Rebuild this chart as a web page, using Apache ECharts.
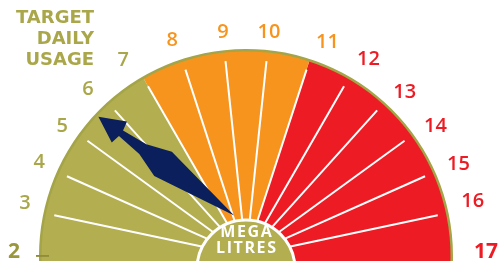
<!DOCTYPE html>
<html>
<head>
<meta charset="utf-8">
<script src="https://cdn.jsdelivr.net/npm/echarts@6/dist/echarts.min.js"></script>
<style>
html, body { margin: 0; padding: 0; background: #fff; }
#main { width: 498px; height: 261px; }
</style>
</head>
<body>
<div id="main"></div>
<script>
// dial scale, mega litres
const scaleMin = 2
const scaleMax = 17
// colour bands end at these values
const bandEnds = [7, 11, 17]
const bandColors = ['#b3ae4f', '#f7941e', '#ed1c24']
const tickLabels = [2, 3, 4, 5, 6, 7, 8, 9, 10, 11, 12, 13, 14, 15, 16, 17]
// where the needle points
const targetValue = [5.7]
const titleText = 'TARGET\nDAILY\nUSAGE'
const unitText = 'MEGA\nLITRES'

const olive = '#b3ae4f'
const oliveText = '#aaa74a'
const orange = '#f7941e'
const red = '#ed1c24'
const navy = '#0b1f5c'

const cx = 246, cy = 256, R = 206
const span = scaleMax - scaleMin
const degPerUnit = 180 / span
// the print runs the dial a little below the centre line, to the bottom edge
const overrun = 0.5

const myChart = echarts.init(document.getElementById('main'))

const fillMin = scaleMin - overrun
const fillSpan = span + overrun * 2
const bandStops = bandEnds.map((end, i) => [end === scaleMax ? 1 : (end - fillMin) / fillSpan, bandColors[i]])

// nudges [top, right, bottom, left] so the numbers sit like the print
const labelPad = {
    2: [0, 6, 8, 0], 3: [0, 0, 14, 0], 4: [0, 0, 7, 0], 5: [0, 0, 0, 0],
    6: [0, 5, 6, 0], 7: [0, 7, 10, 0], 8: [0, 0, 11, 0], 9: [0, 0, 8, 0],
    10: [0, 0, 8, 0], 11: [0, 0, 7, 2], 12: [0, 0, 11, 1], 13: [0, 0, 0, 0],
    14: [0, 0, 0, 0], 15: [0, 0, 4, 0], 16: [0, 0, 18, 0], 17: [0, 0, 8, 8]
}

function labelColor(v) {
    if (v <= bandEnds[0]) return v === scaleMin ? '#9a973c' : oliveText
    if (v <= bandEnds[1]) return orange
    return red
}

const labelRich = {}
tickLabels.forEach(function (v) {
    const isEnd = v === scaleMin || v === scaleMax
    labelRich['t' + v] = {
        color: labelColor(v),
        fontFamily: 'Open Sans',
        fontSize: isEnd ? 21 : 20,
        fontWeight: isEnd ? 'bold' : 600,
        lineHeight: 1,
        padding: labelPad[v]
    }
})

const hidden = {
    axisLine: { show: false },
    axisTick: { show: false },
    splitLine: { show: false },
    axisLabel: { show: false },
    pointer: { show: false },
    anchor: { show: false },
    title: { show: false },
    detail: { show: false }
}

// needle drawn pointing up, tilted a little like the original
const needle = 'path://M0,0 L16.6,23.8 L7.5,27.2 L13.9,53.6 L26.5,77 L24.4,166.2 L-3.2,81.3 L2,55.3 L0.6,28.2 L-9.1,27.6 Z'

const spaced = s => s.split('\n').map(line => line.split('').join('\u200a')).join('\n')

const option = {
    animation: false,
    title: [{
        text: titleText,
        left: 94,
        top: 8,
        textAlign: 'right',
        padding: 0,
        textStyle: {
            color: oliveText,
            fontFamily: 'DejaVu Sans',
            fontWeight: 'bold',
            fontSize: 18,
            lineHeight: 21
        }
    }, {
        text: spaced(unitText),
        left: cx,
        top: 224,
        textAlign: 'center',
        padding: 0,
        z: 10,
        textStyle: {
            color: '#fff',
            fontFamily: 'Open Sans',
            fontWeight: 'bold',
            fontSize: 16,
            lineHeight: 16
        }
    }],
    polar: {
        center: [cx, cy],
        radius: R
    },
    angleAxis: {
        type: 'value',
        min: scaleMin,
        max: scaleMin + span * 2,
        interval: 1,
        startAngle: 180,
        clockwise: true,
        axisLine: { show: false },
        axisTick: { show: false },
        splitLine: { show: false },
        axisLabel: {
            margin: 14,
            formatter: function (val) {
                const v = Math.round(val)
                if (tickLabels.indexOf(v) < 0 || val > scaleMax) return ''
                return '{t' + v + '|' + v + '}'
            },
            rich: labelRich
        }
    },
    radiusAxis: { show: false },
    series: [
        // coloured bands
        Object.assign({}, hidden, {
            type: 'gauge',
            center: [cx, cy],
            radius: R,
            startAngle: 180 + overrun * degPerUnit,
            endAngle: -overrun * degPerUnit,
            min: fillMin,
            max: scaleMax + overrun,
            silent: true,
            axisLine: { show: true, lineStyle: { width: R, color: bandStops } },
            data: targetValue.map(v => ({ value: v }))
        }),
        // white dividers between the units
        Object.assign({}, hidden, {
            type: 'gauge',
            center: [cx, cy],
            radius: R,
            startAngle: 180 - degPerUnit,
            endAngle: degPerUnit,
            min: scaleMin + 1,
            max: scaleMax - 1,
            splitNumber: span - 2,
            silent: true,
            splitLine: { show: true, distance: 0, length: R - 30, lineStyle: { color: '#fff', width: 2 } },
            data: targetValue.map(v => ({ value: v }))
        }),
        // rim
        Object.assign({}, hidden, {
            type: 'gauge',
            center: [cx, cy],
            radius: R + 1,
            startAngle: 180 + overrun * degPerUnit,
            endAngle: -overrun * degPerUnit,
            min: fillMin,
            max: scaleMax + overrun,
            silent: true,
            axisLine: { show: true, lineStyle: { width: 2.5, color: [[1, '#a3a548']] } },
            data: targetValue.map(v => ({ value: v }))
        }),
        // small dash beside the 2
        Object.assign({}, hidden, {
            type: 'gauge',
            center: [cx, cy],
            radius: R,
            startAngle: 180,
            endAngle: 179.9,
            min: scaleMin,
            max: scaleMin + 0.01,
            splitNumber: 1,
            silent: true,
            splitLine: { show: true, distance: -14, length: 13, lineStyle: { color: '#8f8c3a', width: 1.5 } },
            data: targetValue.map(v => ({ value: v }))
        }),
        // needle
        Object.assign({}, hidden, {
            type: 'gauge',
            center: [223.2, 226.8],
            radius: R,
            startAngle: 180,
            endAngle: 0,
            min: scaleMin,
            max: scaleMax,
            silent: true,
            pointer: {
                show: true,
                icon: needle,
                length: 166.2,
                width: 35.5,
                itemStyle: { color: navy }
            },
            data: targetValue.map(v => ({ value: v }))
        }),
        // hub
        {
            type: 'pie',
            center: [cx, 269],
            radius: [0, 49],
            silent: true,
            itemStyle: { color: olive, borderColor: '#fff', borderWidth: 3 },
            label: { show: false },
            labelLine: { show: false },
            emphasis: { disabled: true },
            data: [{ value: 1, name: 'hub' }]
        }
    ]
}

myChart.setOption(option)
</script>
</body>
</html>
